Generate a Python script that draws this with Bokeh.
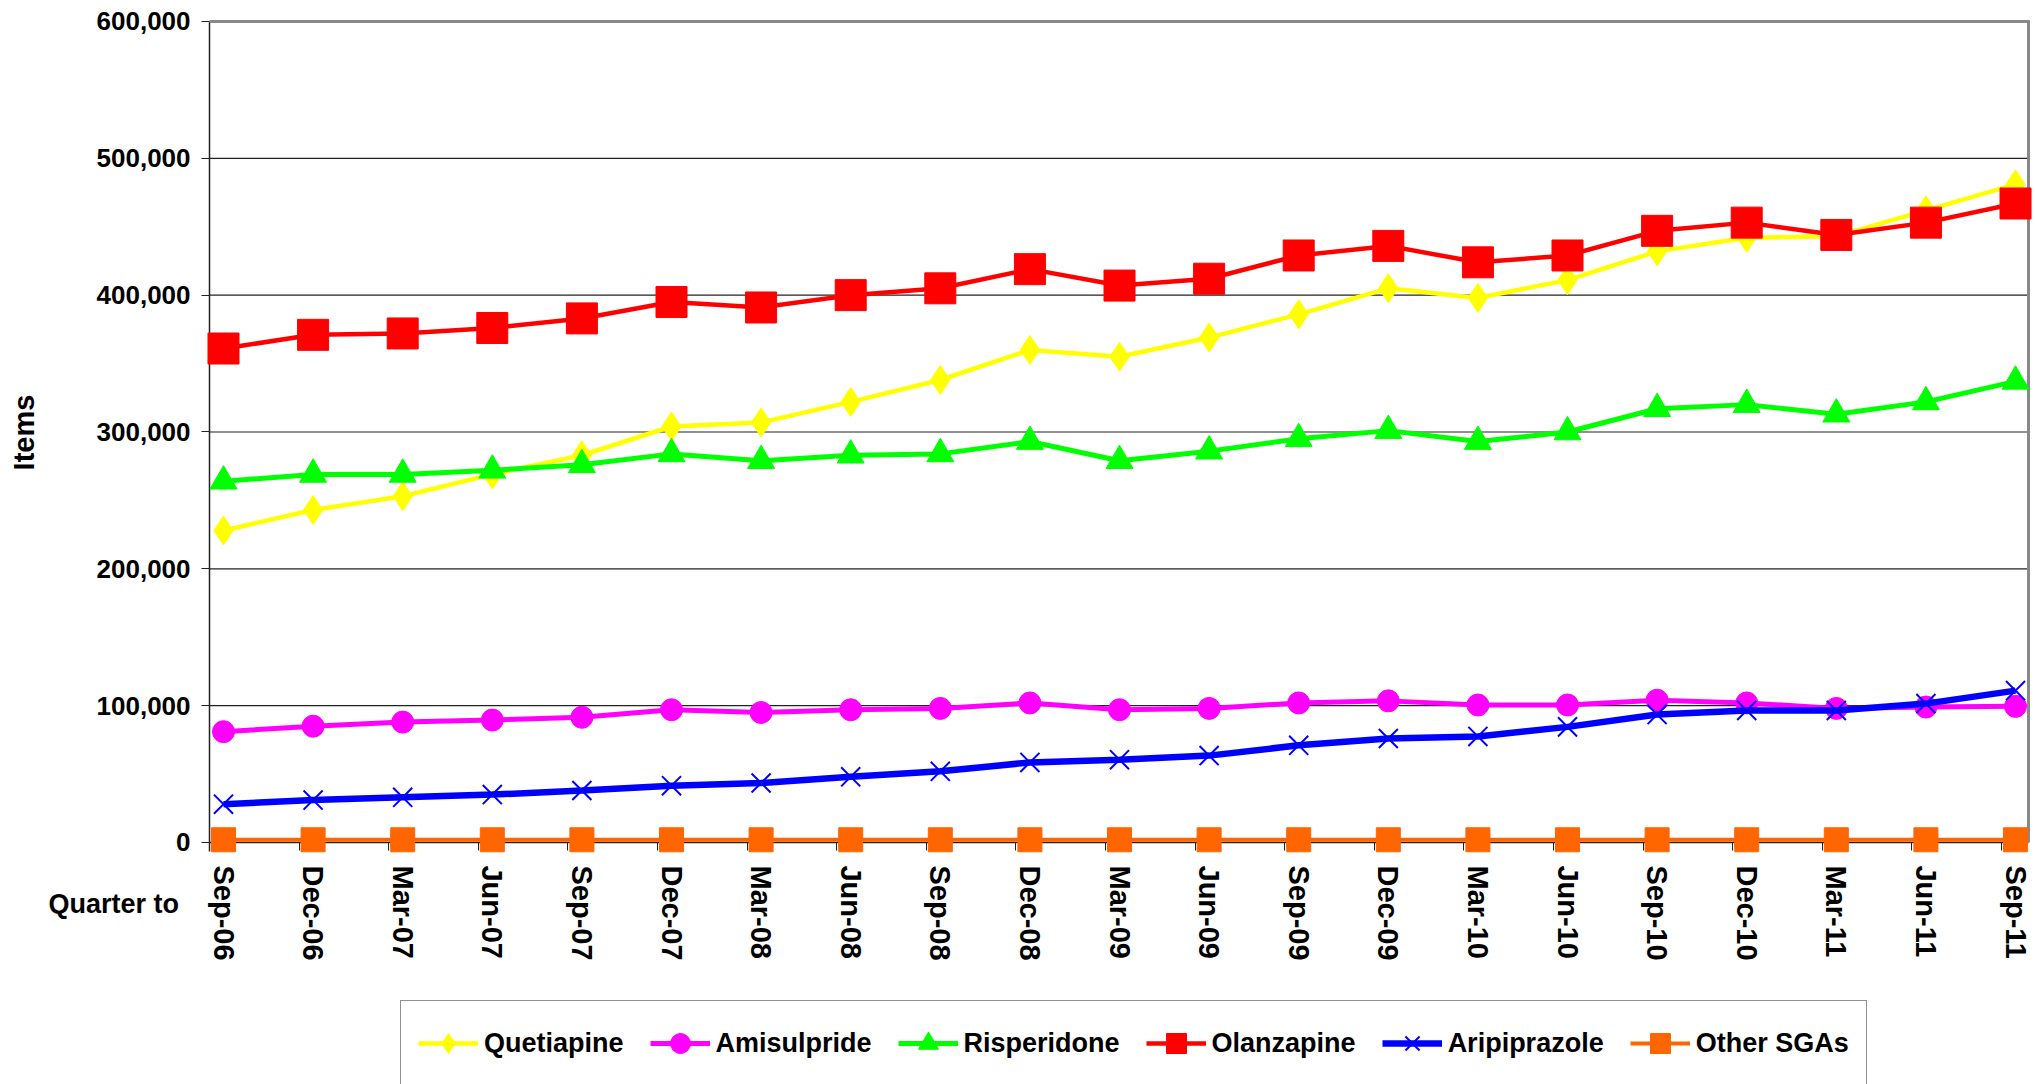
import math
from bokeh.plotting import figure
from bokeh.models import (Range1d, FixedTicker, NumeralTickFormatter, Legend, LegendItem,
                          Label, ColumnDataSource, LinearAxis)
from bokeh.embed import file_html
from bokeh.resources import INLINE

quarters = ["Sep-06", "Dec-06", "Mar-07", "Jun-07", "Sep-07", "Dec-07", "Mar-08", "Jun-08",
            "Sep-08", "Dec-08", "Mar-09", "Jun-09", "Sep-09", "Dec-09", "Mar-10", "Jun-10",
            "Sep-10", "Dec-10", "Mar-11", "Jun-11", "Sep-11"]

quetiapine = [228000, 243000, 253000, 269000, 283000, 304000, 307000, 322000, 338000, 360000,
              355000, 369000, 386000, 405000, 398000, 411000, 432000, 442000, 443000, 462000, 481000]
amisulpride = [81000, 85000, 88000, 89500, 91500, 97000, 95000, 97000, 98000, 102000,
               97000, 98000, 102000, 103500, 100500, 100500, 104000, 102000, 98000, 99000, 99500]
risperidone = [264000, 269000, 269000, 272000, 276000, 284000, 279000, 283000, 284000, 293000,
               279000, 286000, 295000, 301000, 293000, 300000, 317000, 320000, 313000, 322000, 337000]
olanzapine = [361000, 371000, 372000, 376000, 383000, 395000, 391000, 400000, 405000, 419000,
              407000, 412000, 429000, 436000, 424000, 429000, 447000, 453000, 444000, 453000, 467000]
aripiprazole = [28000, 31000, 33000, 35000, 38000, 41500, 43500, 48000, 52000, 58500,
                60500, 63500, 71000, 76000, 77500, 84500, 93500, 96500, 96500, 101500, 111000]
other_sgas = [2000, 2000, 2000, 2000, 2000, 2000, 2000, 2000, 2000, 2000,
              2000, 2000, 2000, 2000, 2000, 2000, 2000, 2000, 2000, 2000, 2000]

y_ticks = [0, 100000, 200000, 300000, 400000, 500000, 600000]

FONT = "Liberation Sans"
idx = list(range(len(quarters)))

W, H = 2035, 1084
# plot-area geometry (x in category units, y in items)
X_LO, X_HI = -0.156, 20.145         # plot-area left / right edge
Y_LO, Y_HI = -6577, 600000          # plot-area bottom / top edge

p = figure(width=W, height=H, output_backend="svg", toolbar_location=None, title=None,
           x_range=Range1d(-2.4888, 20.223), y_range=Range1d(-176854, 615333),
           x_axis_type=None, y_axis_type=None, min_border=0,
           background_fill_color="white", border_fill_color="white")
p.outline_line_color = None
p.xgrid.visible = False
p.ygrid.visible = False

# gridlines and plot-area border
p.segment(x0=[X_LO] * 5, x1=[X_HI] * 5, y0=y_ticks[1:6], y1=y_ticks[1:6],
          line_color="#222222", line_width=1.2)
p.segment(x0=[X_LO], x1=[X_HI + 0.015], y0=[Y_HI], y1=[Y_HI], line_color="#888888", line_width=3)
p.segment(x0=[X_HI], x1=[X_HI], y0=[Y_HI], y1=[0], line_color="#888888", line_width=3)

# x axis at y = 0
tick_off = 0.156
xaxis = LinearAxis(fixed_location=0, bounds=(X_LO, X_HI), level="underlay")
xaxis.ticker = FixedTicker(ticks=idx, minor_ticks=[i - tick_off for i in range(len(quarters))])
xaxis.major_label_overrides = {i: q for i, q in enumerate(quarters)}
xaxis.major_label_orientation = -math.pi / 2
xaxis.major_tick_line_color = None
xaxis.major_tick_out = 8
xaxis.major_tick_in = 0
xaxis.minor_tick_line_color = "#222222"
xaxis.minor_tick_out = 8
xaxis.minor_tick_in = 0
xaxis.axis_line_color = "#222222"
xaxis.axis_line_width = 1.5
xaxis.major_label_text_font = FONT
xaxis.major_label_text_font_style = "bold"
xaxis.major_label_text_font_size = "29px"
xaxis.major_label_text_color = "black"
xaxis.major_label_standoff = 15
p.add_layout(xaxis, "below")

# y axis at left edge of plot area
yaxis = LinearAxis(fixed_location=X_LO, bounds=(Y_LO, Y_HI), level="underlay")
yaxis.ticker = FixedTicker(ticks=y_ticks)
yaxis.formatter = NumeralTickFormatter(format="0,0")
yaxis.major_tick_out = 8
yaxis.major_tick_in = 0
yaxis.minor_tick_line_color = None
yaxis.major_tick_line_color = "#222222"
yaxis.axis_line_color = "#222222"
yaxis.axis_line_width = 1.5
yaxis.major_label_text_font = FONT
yaxis.major_label_text_font_style = "bold"
yaxis.major_label_text_font_size = "26px"
yaxis.major_label_text_color = "black"
yaxis.major_label_standoff = 11
p.add_layout(yaxis, "left")

series = [
    ("Quetiapine", quetiapine, "#FFFF00", 4.5, "diamond", 29),
    ("Amisulpride", amisulpride, "#FF00FF", 5, "circle", 22),
    ("Risperidone", risperidone, "#00FF00", 5, "triangle", 27),
    ("Olanzapine", olanzapine, "#FF0000", 4.5, "square", 31),
    ("Aripiprazole", aripiprazole, "#0000FF", 6.5, "x", 27),
    ("Other SGAs", other_sgas, "#FF6600", 4, "square", 24),
]

items = []
for name, vals, col, lw, mk, sz in series:
    src = ColumnDataSource(dict(x=idx, y=vals))
    r1 = p.line("x", "y", source=src, line_color=col, line_width=lw)
    if mk == "x":
        r2 = p.scatter("x", "y", source=src, marker=mk, size=sz, line_color=col, line_width=2)
    else:
        r2 = p.scatter("x", "y", source=src, marker=mk, size=sz, fill_color=col, line_color=col)
    items.append(LegendItem(label=name, renderers=[r1, r2]))

legend = Legend(items=items, orientation="horizontal", location=(400, -2),
                glyph_width=60, glyph_height=50, label_standoff=6, spacing=26, padding=17,
                label_text_font=FONT, label_text_font_style="bold", label_text_font_size="27px",
                label_text_color="black", border_line_color="#222222", border_line_width=1.5,
                background_fill_color="white", background_fill_alpha=1.0, margin=0)
p.add_layout(legend)

p.add_layout(Label(x=48, y=181, x_units="screen", y_units="screen", text="Quarter to",
                   text_font=FONT, text_font_style="bold", text_font_size="27px",
                   text_color="black", text_baseline="middle", text_align="left"))
p.add_layout(Label(x=23, y=652, x_units="screen", y_units="screen", text="Items",
                   angle=math.pi / 2,
                   text_font=FONT, text_font_style="bold", text_font_size="29px",
                   text_color="black", text_baseline="middle", text_align="center"))

open("out.html", "w").write(file_html(p, INLINE))
